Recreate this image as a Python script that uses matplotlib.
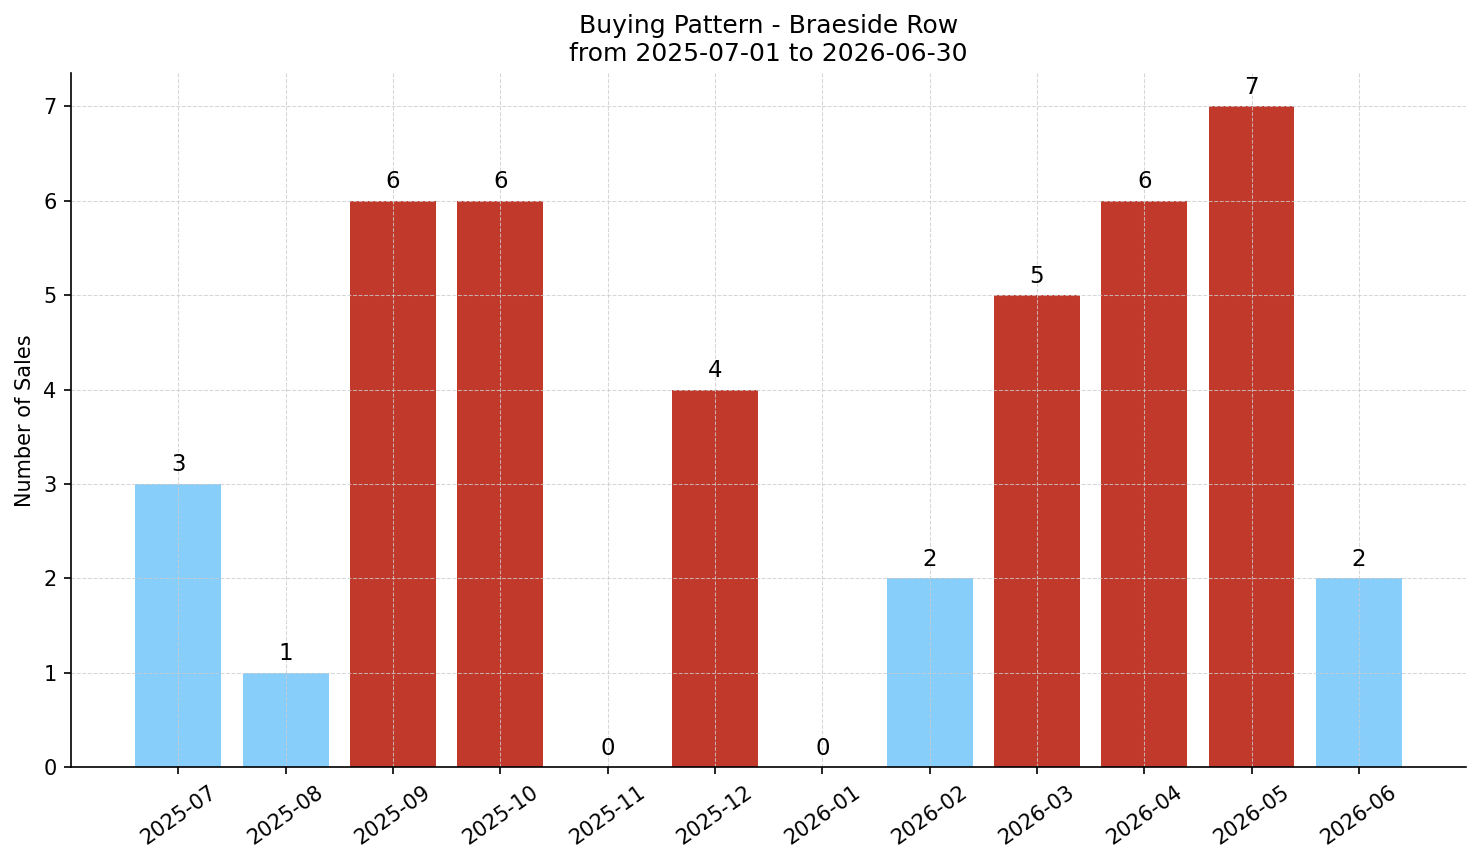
import matplotlib
matplotlib.use("Agg")
import matplotlib.pyplot as plt
import numpy as np

months = ["2025-07", "2025-08", "2025-09", "2025-10", "2025-11", "2025-12",
          "2026-01", "2026-02", "2026-03", "2026-04", "2026-05", "2026-06"]
sales = [3, 1, 6, 6, 0, 4, 0, 2, 5, 6, 7, 2]

HIGH = "#C0392B"
LOW = "#87CEFA"


def main():
    '''Draw buying pattern chart'''
    fig, ax = plt.subplots(figsize=(1481 / 150, 863 / 150), dpi=150)

    avg = np.mean(sales)
    colors = [HIGH if v > avg else LOW for v in sales]
    x = np.arange(len(months))
    bars = ax.bar(x, sales, width=0.8, color=colors)

    for b, v in zip(bars, sales):
        ax.text(b.get_x() + b.get_width() / 2, v + 0.08, str(v),
                ha="center", va="bottom", fontsize=11)

    ax.set_xticks(x)
    ax.set_xticklabels(months, rotation=35, fontsize=10)
    ax.tick_params(axis="y", labelsize=10)
    ax.set_xlim(-1, len(months))
    ax.set_ylim(0, max(sales) * 1.05)
    ax.set_ylabel("Number of Sales", fontsize=10)
    ax.set_title("Buying Pattern - Braeside Row\nfrom 2025-07-01 to 2026-06-30",
                 fontsize=12)

    ax.grid(True, linestyle="--", color="#cccccc", alpha=0.8, linewidth=0.5)
    ax.spines["top"].set_visible(False)
    ax.spines["right"].set_visible(False)

    fig.subplots_adjust(left=0.048, right=0.99, top=0.915, bottom=0.111)
    fig.savefig("out.png")


if __name__ == "__main__":
    main()
